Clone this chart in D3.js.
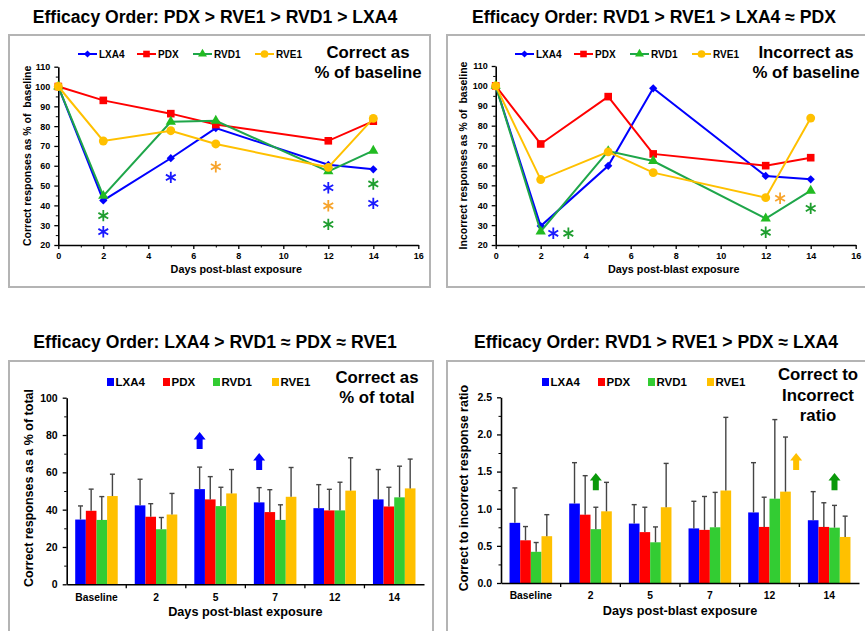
<!DOCTYPE html>
<html><head><meta charset="utf-8">
<script src="https://cdn.jsdelivr.net/npm/d3@7"></script>
<style>
body{margin:0;background:#fff}
text{font-family:"Liberation Sans",Arial,sans-serif;font-weight:bold;fill:#000;white-space:pre}
</style>
</head><body>
<svg id="c" width="865" height="631"></svg>
<script>
// ---------------- DATA ----------------
const seriesNames = ["LXA4","PDX","RVD1","RVE1"];
const days = [0,2,5,7,12,14];
const dayTicks = [0,2,4,6,8,10,12,14,16];
const pctTicks = [20,30,40,50,60,70,80,90,100,110];

// Correct responses as % of baseline
const cbLXA4 = [100,42.5,63.8,79,60.5,58.2];
const cbPDX  = [100,93,86.3,80.8,72.6,82.5];
const cbRVD1 = [100,44.8,82.2,82.7,57.2,67.6];
const cbRVE1 = [100,72.5,77.7,71,59.2,83.9];
// significance asterisks (series, day, height)
const cbStars = [
  {s:"RVD1",d:2,v:34.8},{s:"LXA4",d:2,v:26.7},{s:"LXA4",d:5,v:54.1},
  {s:"RVE1",d:7,v:59.5},{s:"LXA4",d:12,v:48.9},{s:"RVE1",d:12,v:39.8},
  {s:"RVD1",d:12,v:30.4},{s:"RVD1",d:14,v:50.8},{s:"LXA4",d:14,v:41}
];

// Incorrect responses as % of baseline
const ibLXA4 = [100,29.5,59.8,98.8,54.7,53];
const ibPDX  = [100,70.8,94.6,65.8,59.9,63.9];
const ibRVD1 = [100,26.8,67.2,62.2,33.3,47.3];
const ibRVE1 = [100,52.9,66.8,56.4,43.8,83.8];
const ibStars = [
  {s:"LXA4",d:2.56,v:25.9},{s:"RVD1",d:3.23,v:25.9},{s:"RVE1",d:12.64,v:43.5},
  {s:"RVD1",d:12,v:26.4},{s:"RVD1",d:14,v:38.4}
];

// bar charts
const categories = ["Baseline","2","5","7","12","14"];
const totalTicks = [0,20,40,60,80,100];
const ratioTicks = [0,0.5,1,1.5,2,2.5];

// Correct responses as % of total (mean, SD)
const ptLXA4 = [34.7,42.3,51,43.9,40.8,45.5];
const ptLXA4Err = [7.3,14,11.8,7.9,12.6,16];
const ptPDX = [39.4,36.2,45.5,38.7,39.6,41.7];
const ptPDXErr = [11.6,7,12.2,12,11.3,10.3];
const ptRVD1 = [34.5,29.5,41.9,34.5,39.6,46.6];
const ptRVD1Err = [12.5,6.3,10.1,8.1,15.1,16.7];
const ptRVE1 = [47.3,37.4,48.7,46.9,50.2,51.4];
const ptRVE1Err = [11.7,11.3,12.8,15.7,17.6,15.7];
const ptArrows = [
  {c:"5",slot:0,from:72.5,to:81.6,col:"LXA4"},
  {c:"7",slot:0,from:61.2,to:70.3,col:"LXA4"}
];

// Correct to incorrect ratio (mean, SD)
const crLXA4 = [0.81,1.07,0.80,0.735,0.95,0.845];
const crLXA4Err = [0.47,0.55,0.255,0.365,0.67,0.385];
const crPDX = [0.575,0.92,0.685,0.715,0.755,0.755];
const crPDXErr = [0.185,0.525,0.335,0.45,0.4,0.325];
const crRVD1 = [0.42,0.725,0.548,0.75,1.135,0.745];
const crRVD1Err = [0.125,0.295,0.207,0.47,1.065,0.3];
const crRVE1 = [0.63,0.965,1.02,1.245,1.23,0.62];
const crRVE1Err = [0.29,0.39,0.59,0.985,0.735,0.28];
const crArrows = [
  {c:"2",slot:2,from:1.25,to:1.48,col:"arrowGreen"},
  {c:"12",slot:4,from:1.52,to:1.75,col:"RVE1"},
  {c:"14",slot:2,from:1.25,to:1.48,col:"arrowGreen"}
];

// ---------------- STYLE ----------------
const lineCol = {LXA4:"#0000ff",PDX:"#ff0000",RVD1:"#1fa64a",RVE1:"#ffc000"};
const markCol = {LXA4:"#0000ff",PDX:"#ff0000",RVD1:"#22bb22",RVE1:"#ffc000"};
const starCol = {LXA4:"#1a1aff",PDX:"#ff0000",RVD1:"#1f9e2f",RVE1:"#f7a42c"};
const barCol  = {LXA4:"#0000ff",PDX:"#ff0000",RVD1:"#33cc33",RVE1:"#ffc000"};
const arrowCol = {LXA4:"#0000ff",RVE1:"#ffc000",arrowGreen:"#0a990a"};

const diamond = {draw(ctx,size){const r=Math.sqrt(size/2);ctx.moveTo(0,-r);ctx.lineTo(r,0);ctx.lineTo(0,r);ctx.lineTo(-r,0);ctx.closePath();}};
const markType = {LXA4:diamond,PDX:d3.symbolSquare,RVD1:d3.symbolTriangle,RVE1:d3.symbolCircle};
const markSize = {LXA4:34,PDX:58,RVD1:46,RVE1:62};

const svg = d3.select("#c");
svg.append("rect").attr("width",865).attr("height",631).attr("fill","#fff");

function frame(x,y,w,h){
  svg.append("rect").attr("x",x).attr("y",y).attr("width",w).attr("height",h)
    .attr("fill","none").attr("stroke","#b4b4b4").attr("stroke-width",2);
}
function title(txt,x,y){
  svg.append("text").attr("x",x).attr("y",y).attr("text-anchor","middle")
    .attr("font-size",17.6).text(txt);
}
function annot(lines,x,y0,dy){
  lines.forEach((t,i)=>svg.append("text").attr("x",x).attr("y",y0+i*dy)
    .attr("text-anchor","middle").attr("font-size",16.8).text(t));
}
function styleAxis(g){
  g.select(".domain").attr("stroke","#000").attr("stroke-width",1.6);
  g.selectAll(".tick line").attr("stroke","#000").attr("stroke-width",1.3);
  g.selectAll(".tick text").attr("font-family","Liberation Sans,Arial,sans-serif").attr("font-weight","bold").attr("fill","#000");
}

// ---------------- LINE PANELS ----------------
function linePanel(o){
  const x = d3.scaleLinear().domain([0,16]).range(o.xr);
  const y = d3.scaleLinear().domain([20,110]).range(o.yr);
  const g = svg.append("g");
  // minor ticks
  const gxm = g.append("g").attr("transform",`translate(0,${o.yr[0]})`)
    .call(d3.axisBottom(x).tickValues(d3.range(1,16,2)).tickSize(2.5).tickFormat(""));
  gxm.select(".domain").remove(); gxm.selectAll("line").attr("stroke","#000");
  const gym = g.append("g").attr("transform",`translate(${o.xr[0]},0)`)
    .call(d3.axisLeft(y).tickValues(d3.range(25,110,10)).tickSize(2.5).tickFormat(""));
  gym.select(".domain").remove(); gym.selectAll("line").attr("stroke","#000");
  const gx = g.append("g").attr("transform",`translate(0,${o.yr[0]})`)
    .call(d3.axisBottom(x).tickValues(dayTicks).tickSize(4).tickSizeOuter(0).tickPadding(4));
  gx.selectAll(".tick text").attr("font-size",9);
  styleAxis(gx);
  const gy = g.append("g").attr("transform",`translate(${o.xr[0]},0)`)
    .call(d3.axisLeft(y).tickValues(pctTicks).tickSize(4).tickSizeOuter(0).tickPadding(4));
  gy.selectAll(".tick text").attr("font-size",9);
  styleAxis(gy);
  // axis titles
  g.append("text").attr("x",(o.xr[0]+o.xr[1])/2 - 2).attr("y",o.yr[0]+28).attr("text-anchor","middle")
    .attr("font-size",10.8).text("Days post-blast exposure");
  g.append("text").attr("transform",`translate(${o.ylx},${(o.yr[0]+o.yr[1])/2}) rotate(-90)`)
    .attr("text-anchor","middle").attr("font-size",10.5).text(o.ylabel);
  // series
  const line = d3.line().x((v,i)=>x(days[i])).y(v=>y(v));
  o.series.forEach((vals,k)=>{
    const s = seriesNames[k];
    g.append("path").attr("d",line(vals)).attr("fill","none").attr("stroke",lineCol[s]).attr("stroke-width",2);
    g.selectAll(null).data(vals).enter().append("path")
      .attr("transform",(v,i)=>`translate(${x(days[i])},${y(v)})`)
      .attr("d",d3.symbol().type(markType[s]).size(markSize[s]))
      .attr("fill",markCol[s]);
  });
  // stars
  g.selectAll(null).data(o.stars).enter().append("path")
    .attr("transform",d=>`translate(${x(d.d)},${y(d.v)})`)
    .attr("d",d3.symbol().type(d3.symbolAsterisk).size(90))
    .attr("fill","none").attr("stroke",d=>starCol[d.s]).attr("stroke-width",1.8);
  // legend
  const offs=[0,59,115,177];
  seriesNames.forEach((s,k)=>{
    const lx=o.legX+offs[k], ly=o.legY;
    g.append("line").attr("x1",lx).attr("x2",lx+19).attr("y1",ly).attr("y2",ly)
      .attr("stroke",lineCol[s]).attr("stroke-width",2);
    g.append("path").attr("transform",`translate(${lx+9.5},${ly})`)
      .attr("d",d3.symbol().type(markType[s]).size(markSize[s]*0.75)).attr("fill",markCol[s]);
    g.append("text").attr("x",lx+21).attr("y",ly+3.6).attr("font-size",10).text(s);
  });
}

// ---------------- BAR PANELS ----------------
function barPanel(o){
  const x0 = d3.scaleBand().domain(categories).range(o.xr).paddingInner(0).paddingOuter(0);
  const x1 = d3.scaleBand().domain(seriesNames).range([0,x0.bandwidth()]).paddingInner(0).paddingOuter(0.8);
  const slotX = (c,slot)=> x0(c) + x1.step()*(0.8+slot) + x1.bandwidth()/2;
  const y = d3.scaleLinear().domain(o.domain).range(o.yr);
  const g = svg.append("g");
  // bars
  o.series.forEach((vals,k)=>{
    const s = seriesNames[k];
    g.selectAll(null).data(vals).enter().append("rect")
      .attr("x",(v,i)=>x0(categories[i])+x1(s)).attr("width",x1.bandwidth())
      .attr("y",v=>y(v)).attr("height",v=>y(0)-y(v)).attr("fill",barCol[s]);
  });
  // error bars
  o.series.forEach((vals,k)=>{
    const s = seriesNames[k], err=o.errs[k];
    vals.forEach((v,i)=>{
      const cx = x0(categories[i])+x1(s)+x1.bandwidth()/2;
      g.append("line").attr("x1",cx).attr("x2",cx).attr("y1",y(v)).attr("y2",y(v+err[i]))
        .attr("stroke","#444").attr("stroke-width",1.4);
      g.append("line").attr("x1",cx-2.5).attr("x2",cx+2.5).attr("y1",y(v+err[i])).attr("y2",y(v+err[i]))
        .attr("stroke","#444").attr("stroke-width",1.4);
    });
  });
  // axes
  const gym = g.append("g").attr("transform",`translate(${o.xr[0]},0)`)
    .call(d3.axisLeft(y).tickValues(o.minor).tickSize(2.5).tickFormat(""));
  gym.select(".domain").remove(); gym.selectAll("line").attr("stroke","#000");
  const gy = g.append("g").attr("transform",`translate(${o.xr[0]},0)`)
    .call(d3.axisLeft(y).tickValues(o.ticks).tickFormat(o.fmt).tickSize(4).tickSizeOuter(0).tickPadding(5));
  gy.selectAll(".tick text").attr("font-size",10.5);
  styleAxis(gy);
  const gx = g.append("g").attr("transform",`translate(0,${o.yr[0]})`)
    .call(d3.axisBottom(x0).tickSize(0).tickSizeOuter(0).tickPadding(9));
  gx.selectAll(".tick text").attr("font-size",10.3);
  styleAxis(gx);
  gx.selectAll(null).data(categories.slice(1)).enter().append("line")
    .attr("x1",c=>x0(c)).attr("x2",c=>x0(c)).attr("y1",0).attr("y2",4).attr("stroke","#000").attr("stroke-width",1.3);
  g.append("text").attr("x",(o.xr[0]+o.xr[1])/2).attr("y",o.yr[0]+32).attr("text-anchor","middle")
    .attr("font-size",12.7).text("Days post-blast exposure");
  g.append("text").attr("transform",`translate(${o.ylx},${o.yc}) rotate(-90)`)
    .attr("text-anchor","middle").attr("font-size",12.5).text(o.ylabel);
  // arrows
  o.arrows.forEach(a=>{
    const cx = slotX(a.c,a.slot), yb=y(a.from), yt=y(a.to), hh=7.5;
    const p = d3.path();
    p.moveTo(cx-3,yb); p.lineTo(cx-3,yt+hh); p.lineTo(cx-6,yt+hh); p.lineTo(cx,yt);
    p.lineTo(cx+6,yt+hh); p.lineTo(cx+3,yt+hh); p.lineTo(cx+3,yb); p.closePath();
    g.append("path").attr("d",p.toString()).attr("fill",arrowCol[a.col]);
  });
  // legend
  const offs=[0,56,106,165];
  seriesNames.forEach((s,k)=>{
    const lx=o.legX+offs[k];
    g.append("rect").attr("x",lx).attr("y",o.legY-4).attr("width",7).attr("height",8).attr("fill",barCol[s]);
    g.append("text").attr("x",lx+8.5).attr("y",o.legY+4.3).attr("font-size",11.5).text(s);
  });
}

// frames
frame(9,35,421,252);
frame(447,35,430,252);
frame(9,361,424,290);
frame(447,361,430,290);

// titles
title("Efficacy Order: PDX > RVE1 > RVD1 > LXA4",215,22.5);
title("Efficacy Order: RVD1 > RVE1 > LXA4 \u2248 PDX",654,22.5);
title("Efficacy Order: LXA4 > RVD1 \u2248 PDX \u2248 RVE1",215,348);
title("Efficacy Order: RVD1 > RVE1 > PDX \u2248 LXA4",656,348);

linePanel({xr:[58.3,418.3],yr:[245,66.7],series:[cbLXA4,cbPDX,cbRVD1,cbRVE1],stars:cbStars,
  ylabel:"Correct responses as % of  baseline",ylx:31,legX:78,legY:54});
linePanel({xr:[495.7,855.7],yr:[245,66],series:[ibLXA4,ibPDX,ibRVD1,ibRVE1],stars:ibStars,
  ylabel:"Incorrect responses as % of  baseline",ylx:467,legX:515,legY:54});
annot(["Correct as","% of baseline"],368,57.5,20.5);
annot(["Incorrect as","% of baseline"],806,57.5,20.5);

barPanel({xr:[66.7,424],yr:[584.3,397.7],domain:[0,100],ticks:totalTicks,minor:d3.range(10,100,20),fmt:d3.format("d"),
  series:[ptLXA4,ptPDX,ptRVD1,ptRVE1],errs:[ptLXA4Err,ptPDXErr,ptRVD1Err,ptRVE1Err],arrows:ptArrows,
  ylabel:"Correct responses as a % of total",ylx:33,yc:488,legX:107,legY:382});
barPanel({xr:[501,859],yr:[583,397.3],domain:[0,2.5],ticks:ratioTicks,minor:[0.25,0.75,1.25,1.75,2.25],fmt:d3.format(".1f"),
  series:[crLXA4,crPDX,crRVD1,crRVE1],errs:[crLXA4Err,crPDXErr,crRVD1Err,crRVE1Err],arrows:crArrows,
  ylabel:"Correct to incorrect response ratio",ylx:468,yc:488,legX:542,legY:382});
annot(["Correct as","% of total"],377,383,20);
annot(["Correct to","Incorrect","ratio"],818,380,20.5);
</script>
</body></html>
